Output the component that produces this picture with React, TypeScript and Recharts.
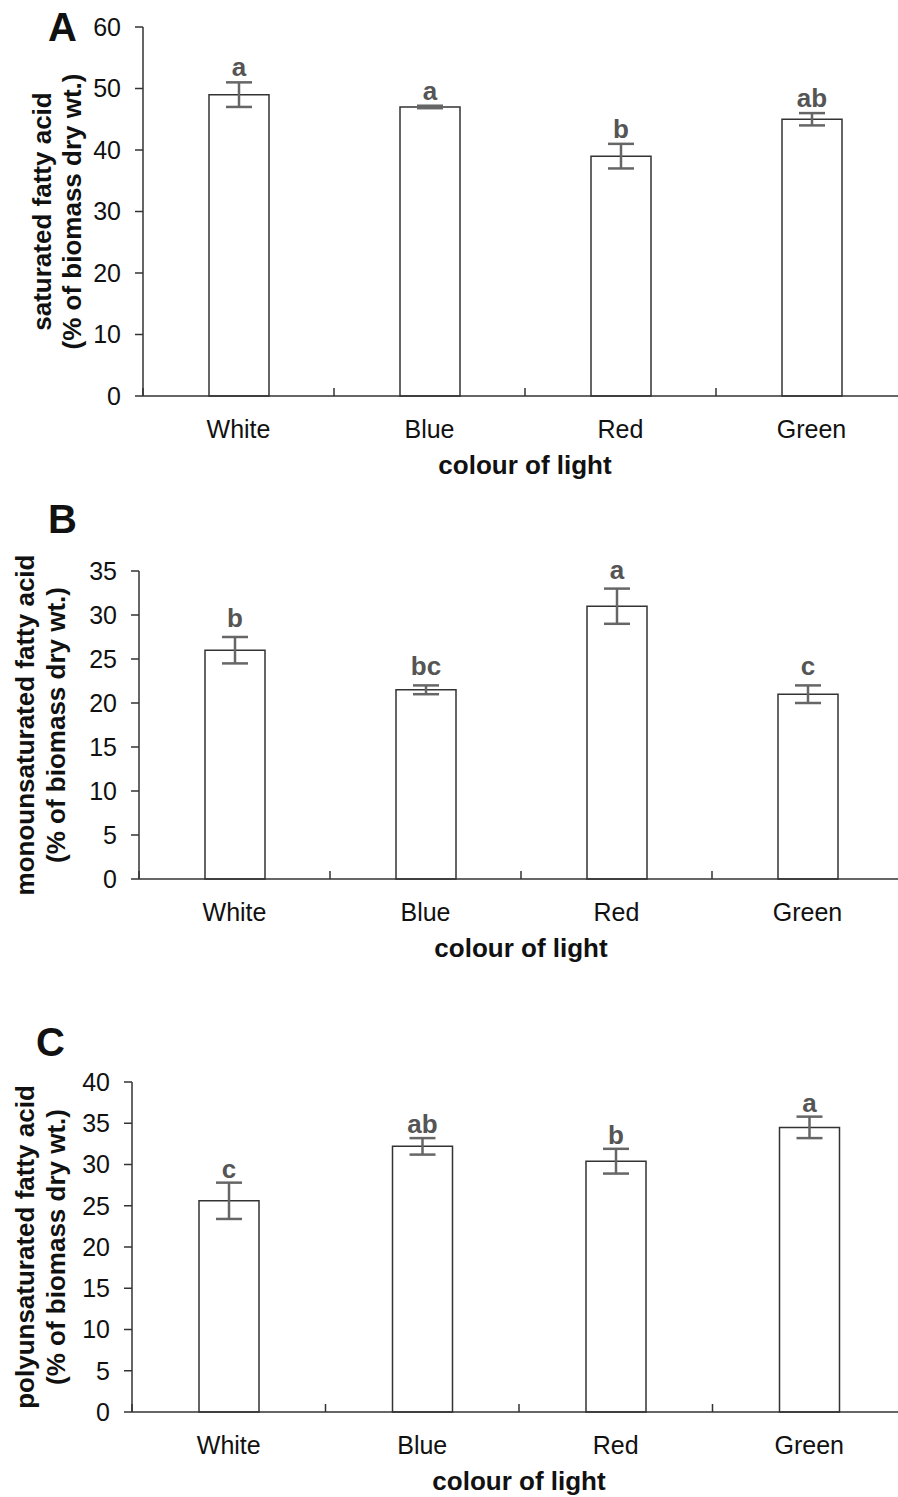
import React from 'react';
import { BarChart, Bar, XAxis, YAxis, ErrorBar, LabelList } from 'recharts';

// categories and values
const categories = ['White', 'Blue', 'Red', 'Green'];

const saturatedMeans = [49, 47, 39, 45];
const saturatedErrors = [2, 0.2, 2, 1];
const saturatedLetters = ['a', 'a', 'b', 'ab'];
const saturatedTicks = [0, 10, 20, 30, 40, 50, 60];

const monoMeans = [26, 21.5, 31, 21];
const monoErrors = [1.5, 0.5, 2, 1];
const monoLetters = ['b', 'bc', 'a', 'c'];
const monoTicks = [0, 5, 10, 15, 20, 25, 30, 35];

const polyMeans = [25.6, 32.2, 30.4, 34.5];
const polyErrors = [2.2, 1, 1.5, 1.3];
const polyLetters = ['c', 'ab', 'b', 'a'];
const polyTicks = [0, 5, 10, 15, 20, 25, 30, 35, 40];

const FONT = '"Liberation Sans", Arial, sans-serif';
const AXIS = '#333';
const X_TICK_MARGIN = 24;

interface Row {
  name: string;
  mean: number;
  err: number;
  letter: string;
}

const buildRows = (means: number[], errs: number[], letters: string[]): Row[] =>
  categories.map((name, i) => ({ name, mean: means[i], err: errs[i], letter: letters[i] }));

interface PanelProps {
  letter: string;
  letterX: number;
  letterY: number;
  title1: string;
  title2: string;
  title1X: number;
  title2X: number;
  means: number[];
  errs: number[];
  letters: string[];
  ticks: number[];
  top: number;
  height: number;
  plotTop: number;
  plotBottom: number;
  plotLeft: number;
  plotRight: number;
  letterGap: number;
}

const CHART_W = 920;
const X_AXIS_H = 80;

const Panel: React.FC<PanelProps> = (p) => {
  const data = buildRows(p.means, p.errs, p.letters);

  const renderYLabel = (props: any) => {
    const vb = props.viewBox || props;
    const cy = vb.y + vb.height / 2;
    return (
      <g fontFamily={FONT} fontWeight="bold" fill="#111">
        <text x={p.letterX} y={p.letterY} fontSize={40}>
          {p.letter}
        </text>
        <text
          x={p.title1X}
          y={cy}
          fontSize={26}
          textAnchor="middle"
          dominantBaseline="central"
          transform={`rotate(-90 ${p.title1X} ${cy})`}
        >
          {p.title1}
        </text>
        <text
          x={p.title2X}
          y={cy}
          fontSize={26}
          textAnchor="middle"
          dominantBaseline="central"
          transform={`rotate(-90 ${p.title2X} ${cy})`}
        >
          {p.title2}
        </text>
      </g>
    );
  };

  const renderXLabel = (props: any) => {
    const vb = props.viewBox || props;
    return (
      <text
        x={vb.x + vb.width / 2}
        y={vb.y + 78}
        textAnchor="middle"
        fontFamily={FONT}
        fontWeight="bold"
        fontSize={26}
        fill="#111"
      >
        colour of light
      </text>
    );
  };

  const renderXTick = (props: any) => {
    const { x, y, payload } = props;
    const half = payload.offset ?? 0;
    const axisY = y - X_TICK_MARGIN;
    return (
      <g>
        <text x={x} y={y} dy="0.71em" textAnchor="middle" fontFamily={FONT} fontSize={25} fill="#111">
          {payload.value}
        </text>
        <line x1={x - half} x2={x - half} y1={axisY} y2={axisY - 8} stroke={AXIS} strokeWidth={1.5} />
      </g>
    );
  };

  const renderLetter = (props: any) => {
    const { x, y, width, height, index, value } = props;
    const perUnit = height / p.means[index];
    const ly = y - p.errs[index] * perUnit - p.letterGap;
    return (
      <text
        x={x + width / 2}
        y={ly}
        textAnchor="middle"
        fontFamily={FONT}
        fontWeight="bold"
        fontSize={26}
        fill="#555"
      >
        {value}
      </text>
    );
  };

  const max = p.ticks[p.ticks.length - 1];

  return (
    <div style={{ position: 'absolute', left: 0, top: p.top, width: 898, height: p.height, overflow: 'hidden' }}>
      <BarChart
        width={CHART_W}
        height={p.height}
        data={data}
        margin={{
          top: p.plotTop,
          right: CHART_W - p.plotRight,
          left: 0,
          bottom: p.height - p.plotBottom - X_AXIS_H,
        }}
      >
        <XAxis
          dataKey="name"
          height={X_AXIS_H}
          axisLine={{ stroke: AXIS, strokeWidth: 1.5 }}
          tickLine={false}
          tickSize={0}
          tickMargin={X_TICK_MARGIN}
          tick={renderXTick}
          interval={0}
          label={renderXLabel}
        />
        <YAxis
          width={p.plotLeft}
          domain={[0, max]}
          ticks={p.ticks}
          interval={0}
          axisLine={{ stroke: AXIS, strokeWidth: 1.5 }}
          tickLine={{ stroke: AXIS, strokeWidth: 1.5 }}
          tickSize={8}
          tickMargin={14}
          tick={{ fill: '#111', fontSize: 25, fontFamily: FONT }}
          label={renderYLabel}
        />
        <Bar dataKey="mean" fill="#fff" stroke={AXIS} strokeWidth={1.5} barSize={60} isAnimationActive={false}>
          <ErrorBar dataKey="err" width={13} stroke="#666" strokeWidth={2.5} direction="y" />
          <LabelList dataKey="letter" content={renderLetter} />
        </Bar>
      </BarChart>
    </div>
  );
};

export default function App() {
  return (
    <div style={{ position: 'absolute', left: 0, top: 0, width: 898, height: 1497, overflow: 'hidden', background: '#fff' }}>
      <Panel
        letter="A"
        letterX={48}
        letterY={41}
        title1="saturated fatty acid"
        title2="(% of biomass dry wt.)"
        title1X={42}
        title2X={72}
        means={saturatedMeans}
        errs={saturatedErrors}
        letters={saturatedLetters}
        ticks={saturatedTicks}
        top={0}
        height={490}
        plotTop={27}
        plotBottom={396}
        plotLeft={143}
        plotRight={907}
        letterGap={6}
      />
      <Panel
        letter="B"
        letterX={48}
        letterY={43}
        title1="monounsaturated fatty acid"
        title2="(% of biomass dry wt.)"
        title1X={25}
        title2X={56}
        means={monoMeans}
        errs={monoErrors}
        letters={monoLetters}
        ticks={monoTicks}
        top={490}
        height={490}
        plotTop={81}
        plotBottom={389}
        plotLeft={139}
        plotRight={903}
        letterGap={10}
      />
      <Panel
        letter="C"
        letterX={36}
        letterY={76}
        title1="polyunsaturated fatty acid"
        title2="(% of biomass dry wt.)"
        title1X={25}
        title2X={56}
        means={polyMeans}
        errs={polyErrors}
        letters={polyLetters}
        ticks={polyTicks}
        top={980}
        height={517}
        plotTop={102}
        plotBottom={432}
        plotLeft={132}
        plotRight={906}
        letterGap={5}
      />
    </div>
  );
}
